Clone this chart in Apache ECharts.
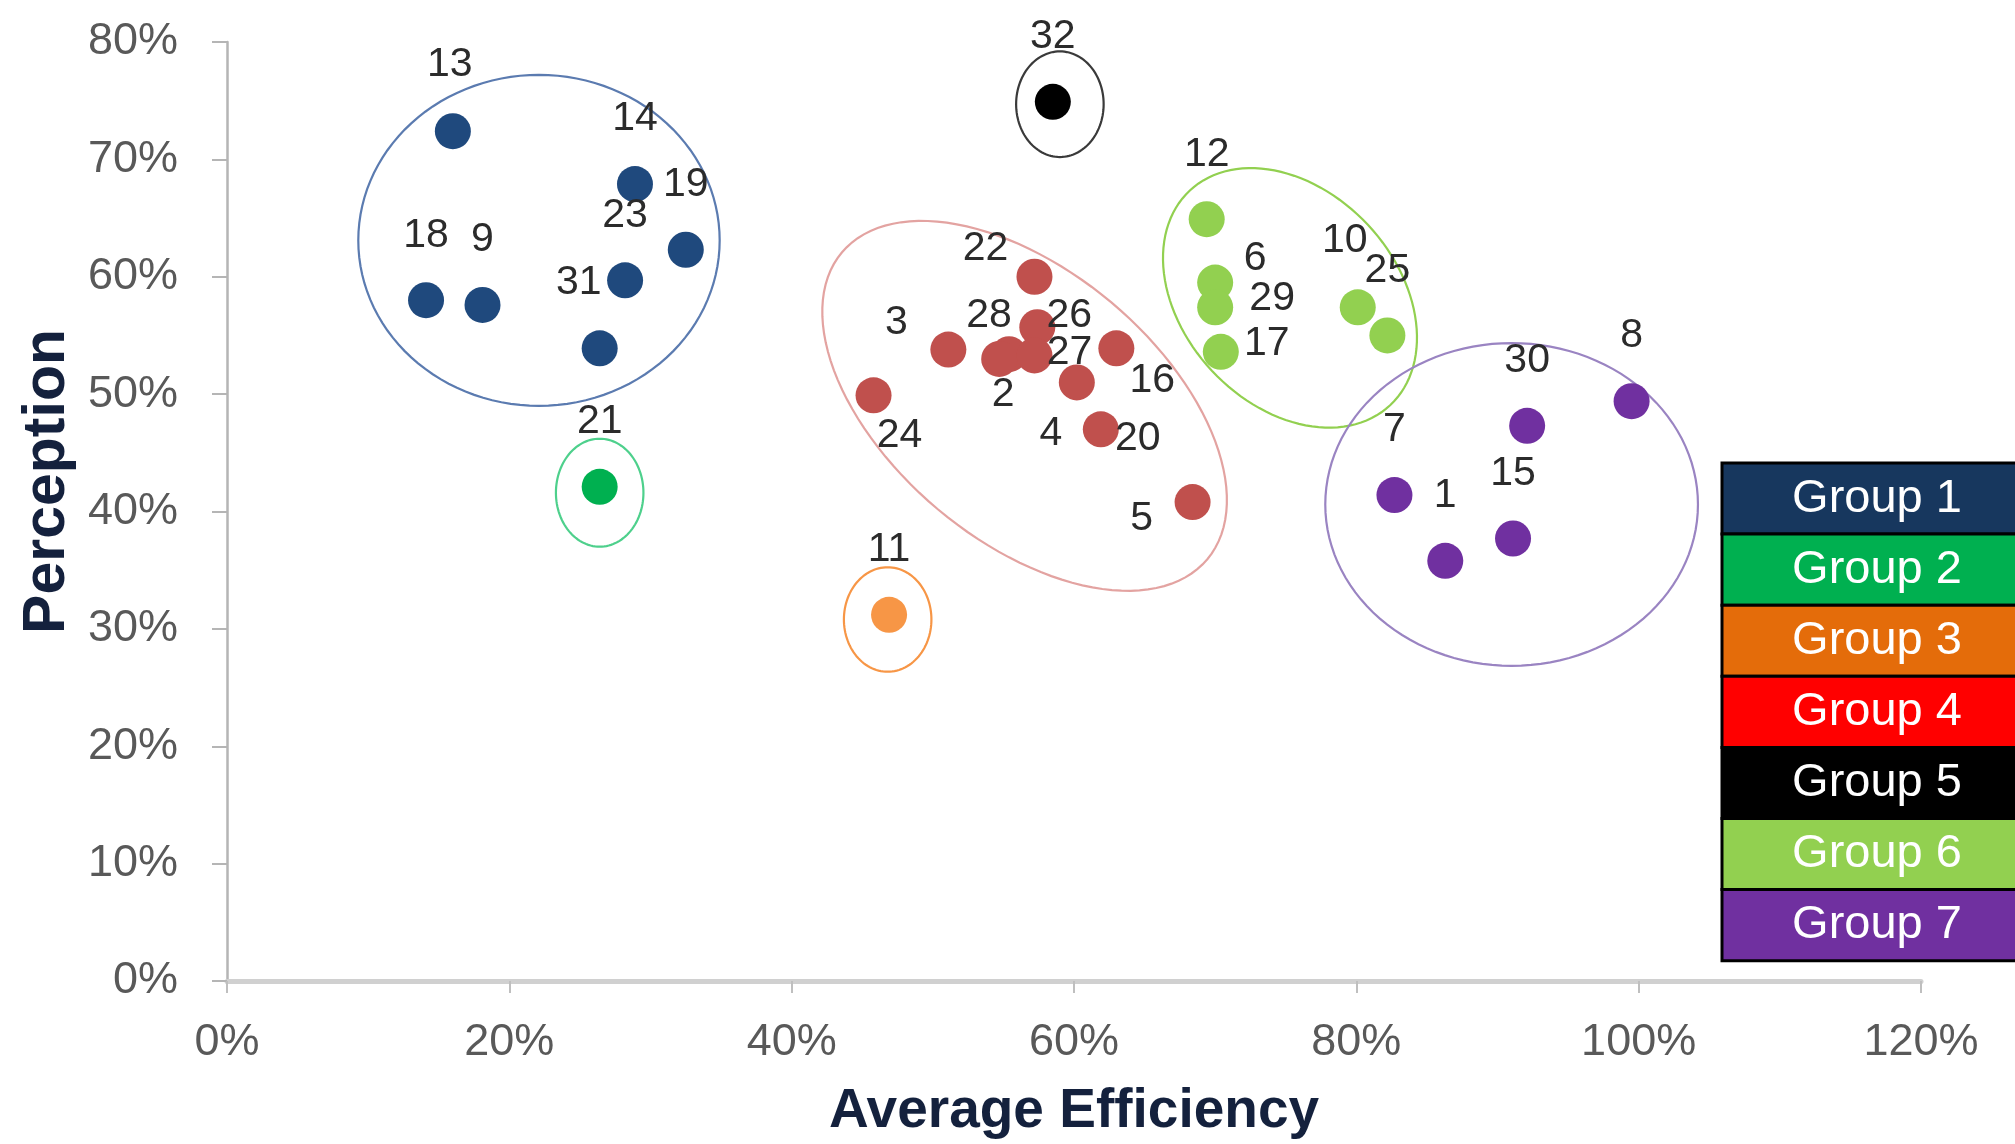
<!DOCTYPE html>
<html>
<head>
<meta charset="utf-8">
<script src="https://cdn.jsdelivr.net/npm/echarts@6/dist/echarts.min.js"></script>
<style>
html,body{margin:0;padding:0;background:#fff;}
#c{width:2015px;height:1144px;}
</style>
</head>
<body>
<div id="c"></div>
<script>
// ---- data (percent values) ----
const xTicks = [0, 20, 40, 60, 80, 100, 120];
const yTicks = [0, 10, 20, 30, 40, 50, 60, 70, 80];

const groupNames = ['Group 1','Group 2','Group 3','Group 4','Group 5','Group 6','Group 7'];

const g1Names = ['13','14','19','23','31','18','9'];
const g1X = [16.0, 28.9, 32.5, 28.2, 26.4, 14.1, 18.1];
const g1Y = [72.4, 67.9, 62.3, 59.7, 53.9, 58.0, 57.6];

const g2Names = ['21'];
const g2X = [26.4];
const g2Y = [42.1];

const g3Names = ['11'];
const g3X = [46.9];
const g3Y = [31.2];

const g4Names = ['22','3','24','28','2','26','27','4','16','20','5'];
const g4X = [57.2, 51.1, 45.8, 55.4, 54.7, 57.4, 57.2, 60.2, 63.0, 61.9, 68.4];
const g4Y = [60.0, 53.8, 49.9, 53.4, 53.0, 55.7, 53.3, 51.0, 53.9, 47.0, 40.8];

const g5Names = ['32'];
const g5X = [58.5];
const g5Y = [74.9];

const g6Names = ['12','6','29','17','10','25'];
const g6X = [69.4, 70.0, 70.0, 70.4, 80.1, 82.2];
const g6Y = [64.9, 59.5, 57.4, 53.6, 57.4, 55.0];

const g7Names = ['7','1','30','15','8'];
const g7X = [82.7, 86.3, 92.1, 91.1, 99.5];
const g7Y = [41.4, 35.8, 47.3, 37.7, 49.4];

// group ellipses: centre x, centre y, semi-axis (x units), semi-axis (y units), tilt deg
const ellCx = [22.1, 26.4, 46.8, 56.5, 59.0, 75.3, 91.0];
const ellCy = [63.1, 41.6, 30.8, 49.0, 74.7, 58.2, 40.6];
const ellRx = [12.8, 3.1, 3.1, 16.9, 3.1, 10.4, 13.2];
const ellRy = [14.1, 4.6, 4.45, 11.5, 4.5, 9.1, 13.75];
const ellAng = [0, 0, 0, 40, 0, 47, 0];

// ---- styles ----
const markerColors = ['#1F497D','#00B050','#F79646','#C0504D','#000000','#92D050','#7030A0'];
const ellipseColors = ['#5B7BB0','#4ED08C','#F79646','#E3A3A1','#3A3A3A','#92D050','#9A84C2'];
const legendColors = ['#17375E','#00B050','#E46C0A','#FF0000','#000000','#92D050','#7030A0'];

const labelOffsets = {
  '22':[-49,-28], '3':[-52,-27], '24':[26,40], '28':[-20,-39], '2':[4,36],
  '26':[32,-12], '27':[35,-3], '4':[-26,51], '16':[36,32], '20':[37,9], '5':[-51,17],
  '6':[40,-24], '29':[57,-9], '17':[46,-8], '10':[-13,-67], '31':[-21,-66], '13':[-3,-67]
};
const defaultOffset = [0,-65];

const FONT = '"Liberation Sans", Arial, sans-serif';

function makeSeries(idx, names, xs, ys) {
  return {
    type: 'scatter',
    name: groupNames[idx],
    symbol: 'circle',
    symbolSize: 36,
    z: 3,
    itemStyle: { color: markerColors[idx], opacity: 1 },
    label: {
      show: true,
      position: 'inside',
      formatter: p => p.name,
      color: '#2b2b2b',
      fontSize: 41,
      fontFamily: FONT
    },
    data: names.map((n, i) => ({
      name: n,
      value: [xs[i], ys[i]],
      label: { offset: labelOffsets[n] || defaultOffset }
    }))
  };
}

const ellipseSeries = {
  type: 'custom',
  z: 2,
  silent: true,
  data: ellCx.map((c, i) => [c, ellCy[i], ellRx[i], ellRy[i], ellAng[i]]),
  encode: { x: 0, y: 1 },
  renderItem: function (params, api) {
    const c = api.coord([api.value(0), api.value(1)]);
    const a = api.size([api.value(2), 0])[0];
    const b = api.size([0, api.value(3)])[1];
    const th = api.value(4) * Math.PI / 180;
    const pts = [];
    for (let k = 0; k < 120; k++) {
      const t = k / 120 * Math.PI * 2;
      const ex = a * Math.cos(t), ey = b * Math.sin(t);
      pts.push([c[0] + ex * Math.cos(th) - ey * Math.sin(th),
                c[1] + ex * Math.sin(th) + ey * Math.cos(th)]);
    }
    return {
      type: 'polygon',
      shape: { points: pts },
      style: { fill: 'none', stroke: ellipseColors[params.dataIndex], lineWidth: 2.2 }
    };
  }
};

// legend block (cut off at the right edge, as in the source)
const legendTop = 463, rowH = 71.1, legendLeft = 1722;
const legendGraphics = [];
groupNames.forEach((g, i) => {
  legendGraphics.push({
    type: 'rect',
    shape: { x: legendLeft, y: legendTop + i * rowH, width: 320, height: rowH },
    style: { fill: legendColors[i], stroke: '#000', lineWidth: 3 },
    z: 10
  });
  legendGraphics.push({
    type: 'text',
    x: 1877, y: legendTop + i * rowH + rowH / 2,
    style: {
      text: g, fill: '#ffffff', font: '47px ' + FONT,
      textAlign: 'center', textVerticalAlign: 'middle'
    },
    z: 11
  });
});

const chart = echarts.init(document.getElementById('c'), null, { renderer: 'canvas' });
chart.setOption({
  animation: false,
  backgroundColor: '#ffffff',
  grid: { left: 227, right: 94, top: 42, bottom: 160, containLabel: false },
  xAxis: {
    type: 'value', min: xTicks[0], max: xTicks[xTicks.length - 1], interval: 20,
    name: 'Average Efficiency', nameLocation: 'middle', nameGap: 103,
    nameTextStyle: { fontSize: 55, fontWeight: 'bold', color: '#14213D', fontFamily: FONT },
    axisLine: { show: true, onZero: false, lineStyle: { color: '#D0D0D0', width: 5 } },
    axisTick: { show: true, length: 12, lineStyle: { color: '#BFBFBF', width: 2 } },
    axisLabel: { formatter: '{value}%', fontSize: 45, color: '#595959', margin: 39, fontFamily: FONT },
    splitLine: { show: false }
  },
  yAxis: {
    type: 'value', min: yTicks[0], max: yTicks[yTicks.length - 1], interval: 10,
    name: 'Perception', nameLocation: 'middle', nameGap: 147,
    nameTextStyle: { fontSize: 59, fontWeight: 'bold', color: '#14213D', fontFamily: FONT, padding: [0, 0, 0, 60] },
    axisLine: { show: true, onZero: false, lineStyle: { color: '#B5B5B5', width: 2.5 } },
    axisTick: { show: true, length: 15, lineStyle: { color: '#B5B5B5', width: 2 } },
    axisLabel: { formatter: '{value}%', fontSize: 45, color: '#595959', margin: 49, fontFamily: FONT },
    splitLine: { show: false }
  },
  graphic: legendGraphics,
  series: [
    ellipseSeries,
    makeSeries(0, g1Names, g1X, g1Y),
    makeSeries(1, g2Names, g2X, g2Y),
    makeSeries(2, g3Names, g3X, g3Y),
    makeSeries(3, g4Names, g4X, g4Y),
    makeSeries(4, g5Names, g5X, g5Y),
    makeSeries(5, g6Names, g6X, g6Y),
    makeSeries(6, g7Names, g7X, g7Y)
  ]
});
</script>
</body>
</html>
